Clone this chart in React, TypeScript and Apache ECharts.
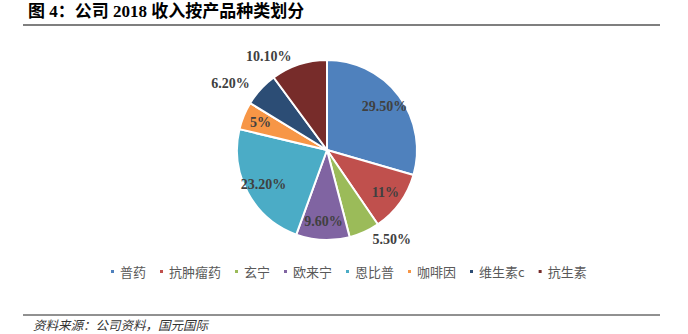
import React, { useEffect, useRef } from "react";
import * as echarts from "echarts";

const categories = ["普药", "抗肿瘤药", "玄宁", "欧来宁", "恩比普", "咖啡因", "维生素c", "抗生素"];
const values = [29.5, 11, 5.5, 9.6, 23.2, 5, 6.2, 10.1];
const valueLabels = ["29.50%", "11%", "5.50%", "9.60%", "23.20%", "5%", "6.20%", "10.10%"];
const outsideLabel = [false, false, true, false, false, false, true, true];
const colors = ["#4F81BD", "#C0504D", "#9BBB59", "#8064A2", "#4BACC6", "#F79646", "#2C4D75", "#772C2A"];

const titleText = "图 4：公司 2018 收入按产品种类划分";
const sourceText = "资料来源：公司资料，国元国际";

export default function App() {
  const ref = useRef<HTMLDivElement>(null);
  useEffect(() => {
    if (!ref.current) return;
    const chart = echarts.init(ref.current, null, { renderer: "svg" });
    const labelFont = {
      fontFamily: "'Liberation Serif', 'Times New Roman', serif",
      fontWeight: "bold" as const,
      fontSize: 14,
      color: "#404040",
    };
    const center = [327, 150];
    chart.setOption({
      animation: false,
      color: colors,
      legend: {
        data: categories,
        left: 104,
        top: 260,
        icon: "rect",
        itemWidth: 5,
        itemHeight: 5,
        itemGap: 12,
        textStyle: {
          fontFamily: "'Noto Sans CJK SC', sans-serif",
          fontSize: 13,
          color: "#595959",
        },
      },
      graphic: [
        {
          type: "text",
          left: 28,
          top: 3,
          style: {
            text: titleText,
            fontFamily: "'Liberation Serif', 'Noto Sans CJK SC', serif",
            fontWeight: "bold",
            fontSize: 17,
            fill: "#000",
          },
        },
        {
          type: "line",
          shape: { x1: 23, y1: 25, x2: 660, y2: 25 },
          style: { stroke: "#555", lineWidth: 1.5 },
        },
        {
          type: "line",
          shape: { x1: 23, y1: 315, x2: 660, y2: 315 },
          style: { stroke: "#222", lineWidth: 1 },
        },
        {
          type: "text",
          left: 33,
          top: 318,
          style: {
            text: sourceText,
            fontFamily: "'Noto Sans CJK SC', sans-serif",
            fontStyle: "italic",
            fontSize: 12.5,
            fill: "#333",
          },
        },
      ],
      series: [
        {
          type: "pie",
          center,
          radius: [0, 90],
          startAngle: 90,
          clockwise: true,
          avoidLabelOverlap: false,
          itemStyle: { borderColor: "#fff", borderWidth: 2 },
          label: {
            show: true,
            position: "outside",
            formatter: (p: any) => (outsideLabel[p.dataIndex] ? valueLabels[p.dataIndex] : ""),
            ...labelFont,
          },
          labelLine: { show: false, length: 8, length2: 0 },
          data: categories.map((name, i) => ({ name, value: values[i] })),
        },
        {
          type: "pie",
          center,
          radius: [0, 138],
          startAngle: 90,
          clockwise: true,
          silent: true,
          legendHoverLink: false,
          itemStyle: { color: "rgba(0,0,0,0)", borderWidth: 0 },
          label: {
            show: true,
            position: "inside",
            formatter: (p: any) => (outsideLabel[p.dataIndex] ? "" : valueLabels[p.dataIndex]),
            ...labelFont,
          },
          labelLine: { show: false },
          tooltip: { show: false },
          data: categories.map((name, i) => ({ name: name + " ", value: values[i] })),
        },
      ],
    });
    return () => chart.dispose();
  }, []);
  return (
    <div
      ref={ref}
      style={{ position: "absolute", left: 0, top: 0, width: 688, height: 334, background: "#fff" }}
    />
  );
}
